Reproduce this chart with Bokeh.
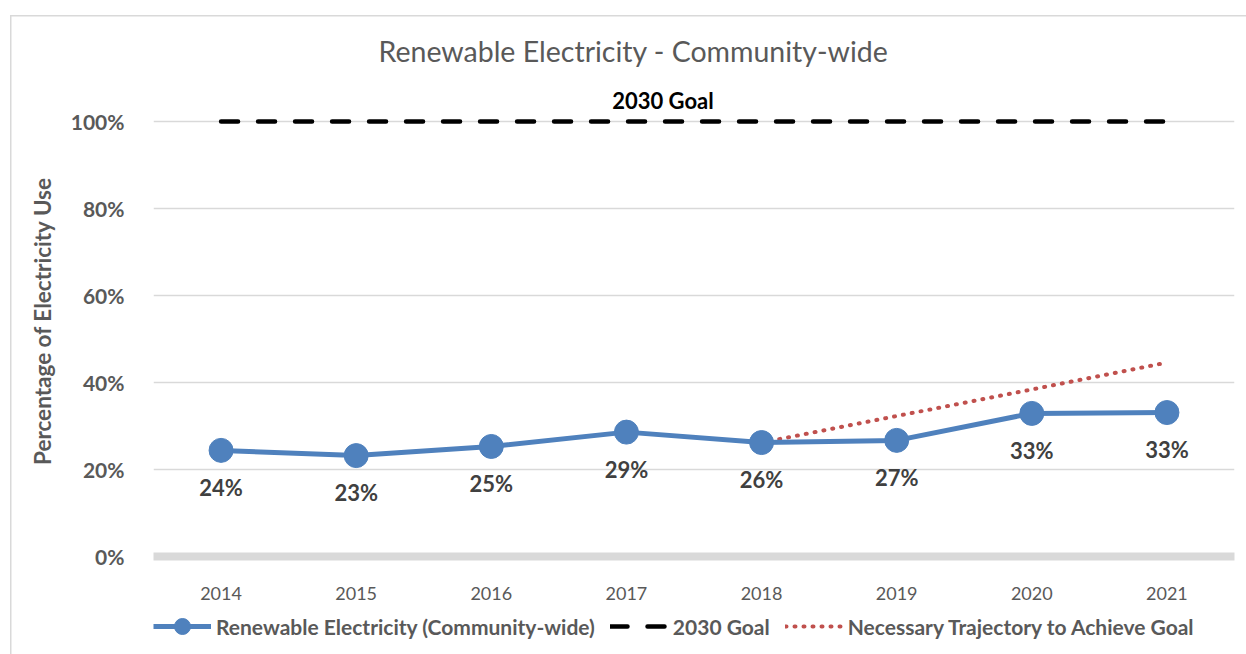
from bokeh.plotting import figure
from bokeh.layouts import column
from bokeh.models import (ColumnDataSource, Legend, LegendItem, FixedTicker,
                          Range1d, Title)
from bokeh.core.properties import value
from bokeh.embed import file_html
from bokeh.resources import INLINE

# ---- data ----
years = ["2014", "2015", "2016", "2017", "2018", "2019", "2020", "2021"]
renewable = [24.4, 23.2, 25.3, 28.6, 26.2, 26.7, 32.9, 33.1]
goal = [100, 100, 100, 100, 100, 100, 100, 100]
traj_years = ["2018", "2019", "2020", "2021"]
trajectory = [26.2, 32.3, 38.4, 44.6]
y_ticks = [0, 20, 40, 60, 80, 100]
goal_label_x = 3.27  # category position of the "2030 Goal" text
series_names = ["Renewable Electricity (Community-wide)", "2030 Goal",
                "Necessary Trajectory to Achieve Goal"]

FONT = "Lato"
GRAY = "#595959"
BLUE = "#4f81bd"
RED = "#c0504d"

xi = list(range(len(years)))
traj_x = [years.index(y) for y in traj_years]

src = ColumnDataSource(dict(x=xi, y=renewable, goal=goal,
                            lbl=[f"{v:.0f}%" for v in renewable]))
tsrc = ColumnDataSource(dict(x=traj_x, y=trajectory))

p = figure(width=1246, height=605, output_backend="svg", toolbar_location=None,
           x_range=Range1d(-0.5, len(years) - 0.5), y_range=Range1d(0, 108.3),
           min_border_left=153, min_border_right=12, min_border_top=85,
           min_border_bottom=49)
p.outline_line_color = None
p.background_fill_alpha = 0
p.border_fill_alpha = 0

# grid
p.xgrid.grid_line_color = None
p.ygrid.grid_line_color = "#d9d9d9"
p.ygrid.grid_line_width = 1.3
p.ygrid.ticker = FixedTicker(ticks=y_ticks[1:])

# axes
p.yaxis.ticker = FixedTicker(ticks=y_ticks)
p.yaxis.major_label_overrides = {t: f"{t}%" for t in y_ticks}
p.yaxis.axis_line_color = None
p.yaxis.major_tick_line_color = None
p.yaxis.minor_tick_line_color = None
p.yaxis.major_label_standoff = 23
p.yaxis.major_label_text_font = FONT
p.yaxis.major_label_text_font_style = "bold"
p.yaxis.major_label_text_font_size = "21px"
p.yaxis.major_label_text_color = GRAY
p.yaxis.axis_label = "Percentage of Electricity Use"
p.yaxis.axis_label_text_font = FONT
p.yaxis.axis_label_text_font_style = "bold"
p.yaxis.axis_label_text_font_size = "22.5px"
p.yaxis.axis_label_text_color = GRAY
p.yaxis.axis_label_standoff = 12

p.xaxis.ticker = FixedTicker(ticks=xi)
p.xaxis.major_label_overrides = {i: y for i, y in zip(xi, years)}
p.xaxis.axis_line_color = "#d9d9d9"
p.xaxis.axis_line_width = 8
p.xaxis.major_tick_line_color = None
p.xaxis.minor_tick_line_color = None
p.xaxis.major_label_standoff = 24
p.xaxis.major_label_text_font = FONT
p.xaxis.major_label_text_font_size = "18px"
p.xaxis.major_label_text_color = GRAY

# series
goal_style = dict(line_color="black", line_width=4.5, line_dash="17 20", line_cap="round")
traj_style = dict(line_color=RED, line_width=4, line_dash="1 8", line_cap="round")
p.line("x", "goal", source=src, **goal_style)
p.line("x", "y", source=tsrc, **traj_style)
p.line("x", "y", source=src, line_color=BLUE, line_width=5)
p.scatter("x", "y", source=src, size=24, fill_color=BLUE, line_color=BLUE)
p.text("x", "y", text="lbl", source=src, y_offset=37, text_align="center",
       text_baseline="middle", text_font=value(FONT), text_font_style="bold",
       text_font_size="22px", text_color="#404040")

# goal label
p.text(x=[goal_label_x], y=[goal[0]], text=["2030 Goal"], y_offset=-21,
       text_align="center", text_baseline="middle", text_font=value(FONT),
       text_font_style="bold", text_font_size="22px", text_color="black")

# title
p.add_layout(Title(text="Renewable Electricity - Community-wide", align="left",
                   offset=225, standoff=36, text_font=FONT, text_font_size="28.5px",
                   text_font_style="normal", text_color=GRAY), "above")

# ---- legend strip (separate small figure; its frame lines up with the chart's) ----
lp = figure(width=1246, height=49, output_backend="svg", toolbar_location=None,
            x_range=Range1d(0, 1), y_range=Range1d(0, 1),
            min_border_left=153, min_border_right=12, min_border_top=0,
            min_border_bottom=0)
lp.axis.visible = False
lp.grid.visible = False
lp.outline_line_color = None
lp.background_fill_alpha = 0
lp.border_fill_alpha = 0
nan = float("nan")
lr1 = lp.line(x=[nan, nan], y=[nan, nan], line_color=BLUE, line_width=5)
lr1b = lp.scatter(x=[nan], y=[nan], size=24, fill_color=BLUE, line_color=BLUE)
lr2 = lp.line(x=[nan, nan], y=[nan, nan], **goal_style)
lr3 = lp.line(x=[nan, nan], y=[nan, nan], **traj_style)

legend = Legend(items=[
    LegendItem(label=series_names[0], renderers=[lr1, lr1b]),
    LegendItem(label=series_names[1], renderers=[lr2]),
    LegendItem(label=series_names[2], renderers=[lr3]),
], orientation="horizontal", location=(0, 8), padding=0, margin=0,
    glyph_width=58, glyph_height=40, label_standoff=5, spacing=15,
    label_text_font=FONT, label_text_font_style="bold", label_text_font_size="21px",
    label_text_color=GRAY, border_line_alpha=0, background_fill_alpha=0)
lp.add_layout(legend, "center")

# light chart-area border (left and top edges) drawn as the page background
border = ("linear-gradient(#d9d9d9, #d9d9d9) 10px 15px / 1.5px 100% no-repeat, "
          "linear-gradient(#d9d9d9, #d9d9d9) 10px 15px / 100% 1.5px no-repeat, white")
layout = column(p, lp, spacing=0, styles={"background": border})
open("out.html", "w").write(file_html(layout, INLINE))
